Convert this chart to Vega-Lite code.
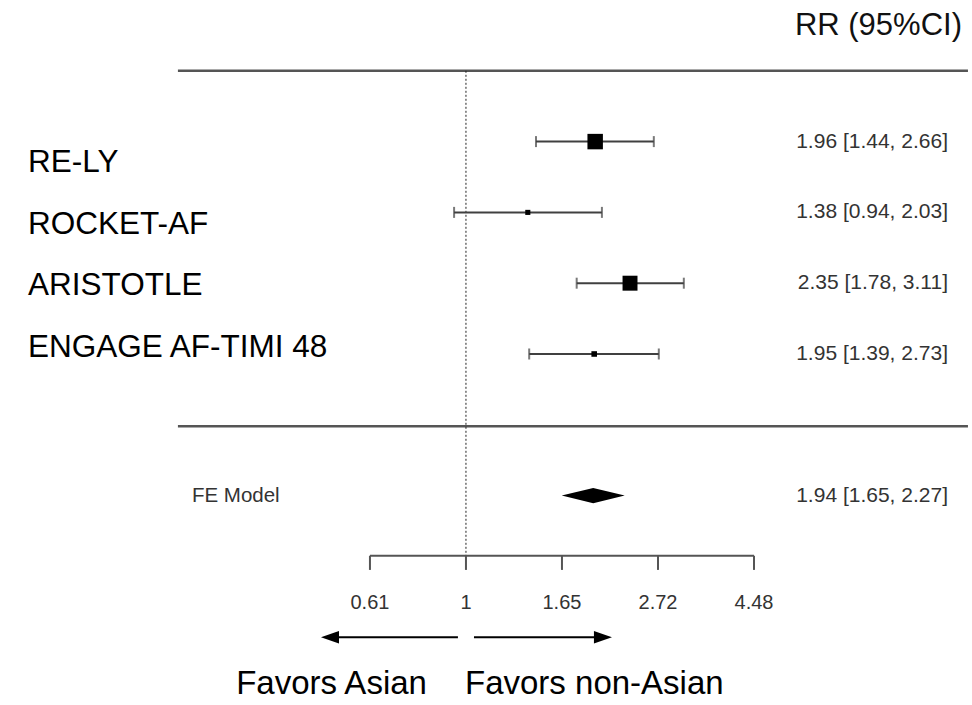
{
  "$schema": "https://vega.github.io/schema/vega-lite/v6.json",
  "width": 972,
  "height": 705,
  "padding": 0,
  "autosize": {"type": "fit", "contains": "padding"},
  "background": "white",
  "config": {"view": {"stroke": null}},
  "datasets": {
    "studies": [
      {"study": "RE-LY", "rr": 1.96, "lo": 1.44, "hi": 2.66, "weight": 46, "row": 2, "labelRow": 2.3, "ci": "1.96 [1.44, 2.66]"},
      {"study": "ROCKET-AF", "rr": 1.38, "lo": 0.94, "hi": 2.03, "weight": 5, "row": 3, "labelRow": 3.18, "ci": "1.38 [0.94, 2.03]"},
      {"study": "ARISTOTLE", "rr": 2.35, "lo": 1.78, "hi": 3.11, "weight": 43, "row": 4, "labelRow": 4.04, "ci": "2.35 [1.78, 3.11]"},
      {"study": "ENGAGE AF-TIMI 48", "rr": 1.95, "lo": 1.39, "hi": 2.73, "weight": 6, "row": 5, "labelRow": 4.92, "ci": "1.95 [1.39, 2.73]"}
    ],
    "summary": [
      {"study": "FE Model", "rr": 1.94, "lo": 1.65, "hi": 2.27, "row": 7, "ci": "1.94 [1.65, 2.27]"}
    ],
    "ticks": [
      {"v": 0.6065, "label": "0.61"},
      {"v": 1, "label": "1"},
      {"v": 1.6487, "label": "1.65"},
      {"v": 2.7183, "label": "2.72"},
      {"v": 4.4817, "label": "4.48"}
    ],
    "one": [{}]
  },
  "layer": [
    {
      "data": {"name": "one"},
      "mark": {"type": "rule", "color": "#555555", "strokeWidth": 2.5},
      "encoding": {
        "x": {"datum": 0.2231, "type": "quantitative", "axis": null, "scale": {"type": "log", "domain": [0.08832, 13.95], "nice": false}},
        "x2": {"datum": 13.66},
        "y": {"datum": 1, "type": "quantitative", "axis": null, "scale": {"type": "linear", "domain": [0, 9.958], "reverse": true, "nice": false, "zero": false}}
      }
    },
    {
      "data": {"name": "one"},
      "mark": {"type": "rule", "color": "#555555", "strokeWidth": 2.5},
      "encoding": {
        "x": {"datum": 0.2231, "type": "quantitative"},
        "x2": {"datum": 13.66},
        "y": {"datum": 6.02, "type": "quantitative"}
      }
    },
    {
      "data": {"name": "one"},
      "mark": {"type": "rule", "color": "#222222", "strokeWidth": 1, "strokeDash": [2, 2]},
      "encoding": {
        "x": {"datum": 1, "type": "quantitative"},
        "y": {"datum": 1, "type": "quantitative"},
        "y2": {"datum": 7.85}
      }
    },
    {
      "data": {"name": "studies"},
      "mark": {"type": "rule", "color": "#404040", "strokeWidth": 2},
      "encoding": {
        "x": {"field": "lo", "type": "quantitative"},
        "x2": {"field": "hi"},
        "y": {"field": "row", "type": "quantitative"}
      }
    },
    {
      "data": {"name": "studies"},
      "mark": {"type": "tick", "orient": "vertical", "color": "#404040", "size": 11, "thickness": 2},
      "encoding": {
        "x": {"field": "lo", "type": "quantitative"},
        "y": {"field": "row", "type": "quantitative"}
      }
    },
    {
      "data": {"name": "studies"},
      "mark": {"type": "tick", "orient": "vertical", "color": "#404040", "size": 11, "thickness": 2},
      "encoding": {
        "x": {"field": "hi", "type": "quantitative"},
        "y": {"field": "row", "type": "quantitative"}
      }
    },
    {
      "data": {"name": "studies"},
      "mark": {"type": "square", "color": "#000000", "filled": true, "opacity": 1},
      "encoding": {
        "x": {"field": "rr", "type": "quantitative"},
        "y": {"field": "row", "type": "quantitative"},
        "size": {"field": "weight", "type": "quantitative", "legend": null, "scale": {"type": "linear", "domain": [0, 100], "range": [0, 520], "zero": true}}
      }
    },
    {
      "data": {"name": "studies"},
      "mark": {"type": "text", "align": "left", "baseline": "middle", "font": "Liberation Sans", "fontSize": 31.5, "color": "#000000"},
      "encoding": {
        "x": {"datum": 0.1022, "type": "quantitative"},
        "y": {"field": "labelRow", "type": "quantitative"},
        "text": {"field": "study"}
      }
    },
    {
      "data": {"name": "studies"},
      "mark": {"type": "text", "align": "right", "baseline": "middle", "font": "Liberation Sans", "fontSize": 21, "color": "#333333"},
      "encoding": {
        "x": {"datum": 12.31, "type": "quantitative"},
        "y": {"field": "row", "type": "quantitative"},
        "text": {"field": "ci"}
      }
    },
    {
      "data": {"name": "summary"},
      "mark": {"type": "point", "shape": "M-1,0L0,-0.24L1,0L0,0.24Z", "size": 3969, "filled": true, "color": "#000000", "opacity": 1},
      "encoding": {
        "x": {"field": "rr", "type": "quantitative"},
        "y": {"field": "row", "type": "quantitative"}
      }
    },
    {
      "data": {"name": "summary"},
      "mark": {"type": "text", "align": "left", "baseline": "middle", "font": "Liberation Sans", "fontSize": 20.5, "color": "#333333"},
      "encoding": {
        "x": {"datum": 0.24, "type": "quantitative"},
        "y": {"field": "row", "type": "quantitative"},
        "text": {"field": "study"}
      }
    },
    {
      "data": {"name": "summary"},
      "mark": {"type": "text", "align": "right", "baseline": "middle", "font": "Liberation Sans", "fontSize": 21, "color": "#333333"},
      "encoding": {
        "x": {"datum": 12.31, "type": "quantitative"},
        "y": {"field": "row", "type": "quantitative"},
        "text": {"field": "ci"}
      }
    },
    {
      "data": {"name": "one"},
      "mark": {"type": "text", "align": "right", "baseline": "middle", "font": "Liberation Sans", "fontSize": 31, "color": "#111111"},
      "encoding": {
        "x": {"datum": 13.24, "type": "quantitative"},
        "y": {"datum": 0.37, "type": "quantitative"},
        "text": {"value": "RR (95%CI)"}
      }
    },
    {
      "data": {"name": "one"},
      "mark": {"type": "rule", "color": "#555555", "strokeWidth": 2},
      "encoding": {
        "x": {"datum": 0.6065, "type": "quantitative"},
        "x2": {"datum": 4.4817},
        "y": {"datum": 7.85, "type": "quantitative"}
      }
    },
    {
      "data": {"name": "ticks"},
      "mark": {"type": "rule", "color": "#555555", "strokeWidth": 2},
      "encoding": {
        "x": {"field": "v", "type": "quantitative"},
        "y": {"datum": 7.85, "type": "quantitative"},
        "y2": {"datum": 8.05}
      }
    },
    {
      "data": {"name": "ticks"},
      "mark": {"type": "text", "align": "center", "baseline": "middle", "font": "Liberation Sans", "fontSize": 20, "color": "#333333"},
      "encoding": {
        "x": {"field": "v", "type": "quantitative"},
        "y": {"datum": 8.52, "type": "quantitative"},
        "text": {"field": "label"}
      }
    },
    {
      "data": {"name": "one"},
      "mark": {"type": "rule", "color": "#000000", "strokeWidth": 2},
      "encoding": {
        "x": {"datum": 0.959, "type": "quantitative"},
        "x2": {"datum": 0.5},
        "y": {"datum": 9.0, "type": "quantitative"}
      }
    },
    {
      "data": {"name": "one"},
      "mark": {"type": "rule", "color": "#000000", "strokeWidth": 2},
      "encoding": {
        "x": {"datum": 1.0426, "type": "quantitative"},
        "x2": {"datum": 2.0},
        "y": {"datum": 9.0, "type": "quantitative"}
      }
    },
    {
      "data": {"name": "one"},
      "mark": {"type": "point", "shape": "M-1,0L1,-0.7L1,0.7Z", "size": 324, "filled": true, "color": "#000000", "opacity": 1},
      "encoding": {
        "x": {"datum": 0.4925, "type": "quantitative"},
        "y": {"datum": 9.0, "type": "quantitative"}
      }
    },
    {
      "data": {"name": "one"},
      "mark": {"type": "point", "shape": "M1,0L-1,-0.7L-1,0.7Z", "size": 324, "filled": true, "color": "#000000", "opacity": 1},
      "encoding": {
        "x": {"datum": 2.041, "type": "quantitative"},
        "y": {"datum": 9.0, "type": "quantitative"}
      }
    },
    {
      "data": {"name": "one"},
      "mark": {"type": "text", "align": "right", "baseline": "middle", "font": "Liberation Sans", "fontSize": 33, "color": "#000000"},
      "encoding": {
        "x": {"datum": 0.816, "type": "quantitative"},
        "y": {"datum": 9.66, "type": "quantitative"},
        "text": {"value": "Favors Asian"}
      }
    },
    {
      "data": {"name": "one"},
      "mark": {"type": "text", "align": "left", "baseline": "middle", "font": "Liberation Sans", "fontSize": 33, "color": "#000000"},
      "encoding": {
        "x": {"datum": 0.995, "type": "quantitative"},
        "y": {"datum": 9.66, "type": "quantitative"},
        "text": {"value": "Favors non-Asian"}
      }
    }
  ]
}
